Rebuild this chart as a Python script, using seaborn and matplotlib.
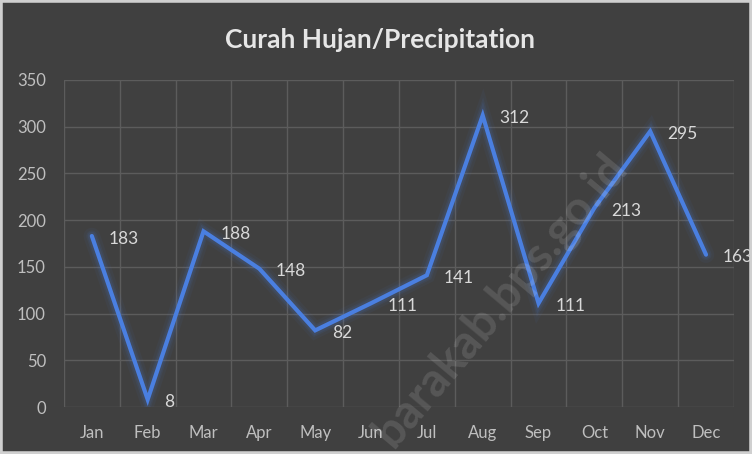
import matplotlib
matplotlib.use("Agg")
import matplotlib.pyplot as plt
import seaborn as sns
import pandas as pd

months = ["Jan", "Feb", "Mar", "Apr", "May", "Jun", "Jul", "Aug", "Sep", "Oct", "Nov", "Dec"]
rain = [183, 8, 188, 148, 82, 111, 141, 312, 111, 213, 295, 163]
y_ticks = [0, 50, 100, 150, 200, 250, 300, 350]

BG = "#404040"
LINE = "#4a7fe0"

sns.set_style("dark")
plt.rcParams["font.family"] = ["Lato", "DejaVu Sans"]

df = pd.DataFrame({"month": months, "rain": rain})

fig = plt.figure(figsize=(7.52, 4.54), dpi=100, facecolor=BG)
ax = fig.add_axes([0.085, 0.1035, 0.891, 0.7205])
ax.set_facecolor(BG)

# glow under the line
for lw, a in [(12, 0.05), (8, 0.08), (6, 0.1)]:
    sns.lineplot(data=df, x="month", y="rain", ax=ax, color=LINE, lw=lw, alpha=a,
                 sort=False, solid_joinstyle="miter")
sns.lineplot(data=df, x="month", y="rain", ax=ax, color=LINE, lw=3, sort=False,
             solid_joinstyle="miter")

for i, v in enumerate(rain):
    ax.annotate(str(v), (i, v), xytext=(12, -2), textcoords="offset points",
                ha="left", va="center", color="#d9d9d9", fontsize=12.5)

ax.set_xlim(-0.5, len(months) - 0.5)
ax.set_ylim(0, 350)
ax.set_yticks(y_ticks)
ax.set_xticks(range(len(months)), months)
ax.set_xticks([i + 0.5 for i in range(-1, len(months))], minor=True)
ax.grid(False)
ax.grid(axis="y", which="major", color="#5c5c5c", lw=1)
ax.grid(axis="x", which="minor", color="#5c5c5c", lw=1)
ax.tick_params(which="both", length=0)
ax.tick_params(axis="y", pad=13, labelcolor="#bfbfbf", labelsize=12)
ax.tick_params(axis="x", pad=13, labelcolor="#bfbfbf", labelsize=12)
ax.set_xlabel("")
ax.set_ylabel("")
for s in ax.spines.values():
    s.set_visible(False)

fig.text(0.505, 0.912, "Curah Hujan/Precipitation", ha="center", va="center",
         color="#e6e6e6", fontsize=19, fontweight="bold")

# watermark
fig.text(0.665, 0.34, "barakab.bps.go.id", rotation=50, ha="center", va="center",
         color="white", alpha=0.12, fontsize=34, fontweight="bold")

# light frame around the chart
fig.patches.append(plt.Rectangle((0, 0), 1, 1, transform=fig.transFigure, fill=False,
                                 edgecolor="#d0d0d0", lw=4))

fig.savefig("out.png", dpi=100, facecolor=BG)
